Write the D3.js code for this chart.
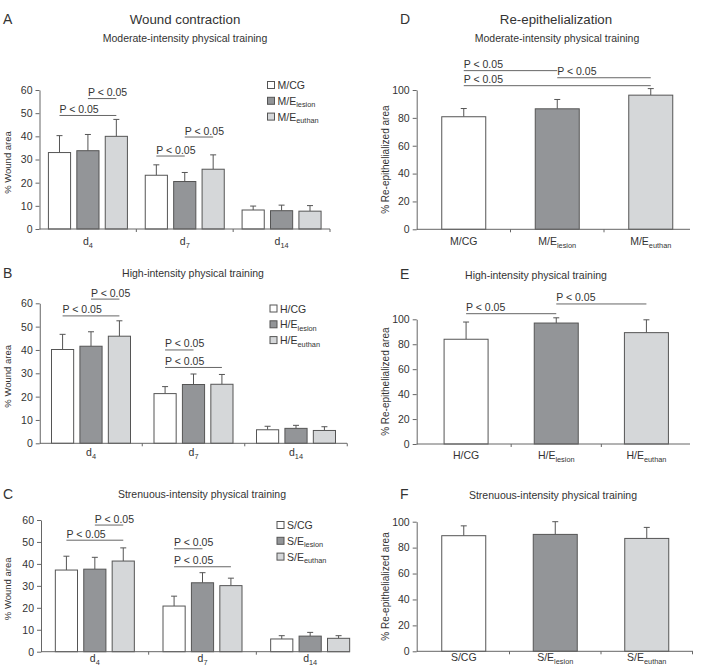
<!DOCTYPE html>
<html>
<head>
<meta charset="utf-8">
<script src="https://cdn.jsdelivr.net/npm/d3@7"></script>
<style>
  body { margin: 0; background: #fff; }
  text, tspan { font-family: "Liberation Sans", Arial, sans-serif; fill: #333; }
</style>
</head>
<body>
<svg id="chart" width="702" height="671"></svg>
<script>
// ---- data ----
const days = ['4', '7', '14']
const groups = ['CG', 'lesion', 'euthan']
const woundTicks = [0, 10, 20, 30, 40, 50, 60]
const repiTicks = [0, 20, 40, 60, 80, 100]

// wound area (%), rows = d4, d7, d14 ; cols = CG, E lesion, E euthan
const woundModerate = [[33, 33.8, 40], [23.2, 20.5, 25.8], [8.2, 7.9, 7.7]]
const woundModerateErr = [[40.3, 40.8, 47.3], [27.7, 24.4, 32], [9.9, 10.3, 10.1]]
const woundHigh = [[40.2, 41.6, 45.9], [21.3, 25.2, 25.3], [5.8, 6.4, 5.5]]
const woundHighErr = [[46.7, 47.8, 52.5], [24.3, 29.7, 29.5], [7.3, 7.7, 7.1]]
const woundStrenuous = [[37.2, 37.6, 41.3], [20.8, 31.4, 30.1], [5.8, 7.1, 6.1]]
const woundStrenuousErr = [[43.5, 43, 47.3], [25.3, 36, 33.5], [7.3, 8.8, 7.3]]

// re-epithelialized area (%), CG, E lesion, E euthan
const repiModerate = [80.8, 86.5, 96.3]
const repiModerateErr = [86.7, 93.2, 101]
const repiHigh = [84, 97, 89.3]
const repiHighErr = [97.8, 101.2, 99.6]
const repiStrenuous = [89.2, 90.2, 87.1]
const repiStrenuousErr = [96.8, 100, 95.6]

// significance brackets: category / bar a -> bar b at level y
const sigWoundModerate = [
  { g: 0, a: 0, b: 2, y: 49 }, { g: 0, a: 1, b: 2, y: 56.3 },
  { g: 1, a: 0, b: 1, y: 31.5 }, { g: 1, a: 1, b: 2, y: 39.7 }
]
const sigWoundHigh = [
  { g: 0, a: 0, b: 2, y: 54.6 }, { g: 0, a: 1, b: 2, y: 61.8 },
  { g: 1, a: 0, b: 1, y: 40 }, { g: 1, a: 0, b: 2, y: 32.5 }
]
const sigWoundStrenuous = [
  { g: 0, a: 0, b: 2, y: 50.8 }, { g: 0, a: 1, b: 2, y: 57.7 },
  { g: 1, a: 0, b: 1, y: 46.9 }, { g: 1, a: 0, b: 2, y: 38.7 }
]
const sigRepiModerate = [{ a: 0, b: 1, y: 113.9 }, { a: 1, b: 2, y: 108.8 }, { a: 0, b: 2, y: 103.1 }]
const sigRepiHigh = [{ a: 0, b: 1, y: 104.5 }, { a: 1, b: 2, y: 112.3 }]
const sigRepiStrenuous = []

const fills = ['#ffffff', '#939598', '#d5d7d9']
const stroke = '#555'
const axisColor = '#666'
const pText = 'P < 0.05'

const svg = d3.select('#chart')

function txt(x, y, s, size, anchor) {
  return svg.append('text').attr('x', x).attr('y', y)
    .attr('font-size', size).attr('text-anchor', anchor || 'start').text(s)
}

function subText(x, y, main, sub, size, anchor) {
  const t = svg.append('text').attr('x', x).attr('y', y)
    .attr('font-size', size).attr('text-anchor', anchor || 'start')
  t.append('tspan').attr('fill', '#333').text(main)
  t.append('tspan').attr('fill', '#333').attr('font-size', size * 0.7).attr('dy', 2.5).text(sub)
  return t
}

function yAxis(y, ticks, xPos) {
  const g = svg.append('g').attr('transform', `translate(${xPos},0)`)
    .call(d3.axisLeft(y).tickValues(ticks).tickSize(4).tickSizeOuter(0).tickPadding(3))
  g.select('.domain').attr('stroke', axisColor)
  g.selectAll('.tick line').attr('stroke', axisColor)
  g.selectAll('.tick text').attr('font-size', 10.5).attr('fill', '#333')
    .attr('font-family', '"Liberation Sans", Arial, sans-serif')
}

function xAxisLine(x, y0, x0, x1) {
  svg.append('line').attr('x1', x0).attr('x2', x1).attr('y1', y0).attr('y2', y0)
    .attr('stroke', axisColor)
  x.domain().forEach((d, i) => {
    const xx = x.range()[0] + x.step() * (i + 1)
    if (xx > x1 + 1) return
    svg.append('line').attr('x1', xx).attr('x2', xx).attr('y1', y0).attr('y2', y0 + 3)
      .attr('stroke', axisColor)
  })
}

function errBar(cx, yTop, yErr) {
  svg.append('line').attr('x1', cx).attr('x2', cx).attr('y1', yTop).attr('y2', yErr)
    .attr('stroke', stroke)
  svg.append('line').attr('x1', cx - 3).attr('x2', cx + 3).attr('y1', yErr).attr('y2', yErr)
    .attr('stroke', stroke)
}

function sigLine(xa, xb, yy) {
  svg.append('line').attr('x1', xa).attr('x2', xb).attr('y1', yy).attr('y2', yy)
    .attr('stroke', axisColor)
  txt(xa, yy - 2.5, pText, 10.5)
}

function woundPanel(p) {
  const y = d3.scaleLinear().domain([0, 60]).range([p.y0, p.y1])
  const x = d3.scaleBand().domain(days).range(p.band)
  const xi = d3.scaleBand().domain(groups).range([-39.5, 39.5]).paddingInner(0.22)
  const barX = (gi, si) => x(days[gi]) + x.bandwidth() / 2 + xi(groups[si])
  const barC = (gi, si) => barX(gi, si) + xi.bandwidth() / 2

  p.values.forEach((row, gi) => row.forEach((v, si) => {
    errBar(barC(gi, si), y(v), y(p.err[gi][si]))
    svg.append('rect')
      .attr('x', barX(gi, si)).attr('y', y(v))
      .attr('width', xi.bandwidth()).attr('height', y(0) - y(v))
      .attr('fill', fills[si]).attr('stroke', stroke)
  }))

  yAxis(y, woundTicks, p.band[0])
  xAxisLine(x, p.y0, p.band[0], p.axisEnd)
  days.forEach(d => subText(x(d) + x.bandwidth() / 2, p.labelY, 'd', d, 10.5, 'middle'))

  svg.append('text').attr('font-size', 9.5).attr('text-anchor', 'middle')
    .attr('transform', `translate(11,${(p.y0 + p.y1) / 2 + 3}) rotate(-90)`)
    .text('% Wound area')

  p.sig.forEach(s => sigLine(barC(s.g, s.a), barC(s.g, s.b), y(s.y)))

  // legend
  groups.forEach((k, i) => {
    const ly = p.legY + i * 15.8
    svg.append('rect').attr('x', p.legX).attr('y', ly - 3.5).attr('width', 7).attr('height', 7)
      .attr('fill', fills[i]).attr('stroke', stroke)
    if (i === 0) txt(p.legX + 10, ly + 4, p.prefix + '/CG', 10.5)
    else subText(p.legX + 10, ly + 4, p.prefix + '/E', k, 10.5)
  })

  txt(3, p.letterY, p.letter, 14)
  txt(p.subX, p.subY, p.subtitle, 10.5, 'middle')
}

function repiPanel(p) {
  const y = d3.scaleLinear().domain([0, 100]).range([p.y0, p.y1])
  const x = d3.scaleBand().domain(groups).range(p.band)
  const barW = 44
  const barC = i => x(groups[i]) + x.bandwidth() / 2

  p.values.forEach((v, i) => {
    errBar(barC(i), y(v), y(p.err[i]))
    svg.append('rect')
      .attr('x', barC(i) - barW / 2).attr('y', y(v))
      .attr('width', barW).attr('height', y(0) - y(v))
      .attr('fill', fills[i]).attr('stroke', stroke)
  })

  yAxis(y, repiTicks, 416.7)
  xAxisLine(x, p.y0, 416.7, p.axisEnd)
  groups.forEach((k, i) => {
    if (i === 0) txt(barC(i), p.labelY, p.prefix + '/CG', 10.5, 'middle')
    else subText(barC(i), p.labelY, p.prefix + '/E', k, 10.5, 'middle')
  })

  svg.append('text').attr('font-size', 10).attr('text-anchor', 'middle')
    .attr('transform', `translate(389,${(p.y0 + p.y1) / 2}) rotate(-90)`)
    .text('% Re-epithelialized area')

  p.sig.forEach(s => sigLine(barC(s.a), barC(s.b), y(s.y)))

  txt(400, p.letterY, p.letter, 14)
  txt(p.subX, p.subY, p.subtitle, 10.5, 'middle')
}

// headers
txt(185, 24, 'Wound contraction', 13.3, 'middle')
txt(556, 24, 'Re-epithelialization', 13.3, 'middle')

woundPanel({
  letter: 'A', letterY: 24, prefix: 'M', subtitle: 'Moderate-intensity physical training', subX: 185, subY: 42,
  values: woundModerate, err: woundModerateErr, sig: sigWoundModerate,
  y0: 229, y1: 90, band: [39.5, 330], axisEnd: 330, labelY: 245, legX: 267.5, legY: 85
})
woundPanel({
  letter: 'B', letterY: 278, prefix: 'H', subtitle: 'High-intensity physical training', subX: 193, subY: 277,
  values: woundHigh, err: woundHighErr, sig: sigWoundHigh,
  y0: 443.3, y1: 303.3, band: [39.75, 347.25], axisEnd: 347, labelY: 456, legX: 270, legY: 308.5
})
woundPanel({
  letter: 'C', letterY: 499, prefix: 'S', subtitle: 'Strenuous-intensity physical training', subX: 202, subY: 498,
  values: woundStrenuous, err: woundStrenuousErr, sig: sigWoundStrenuous,
  y0: 651.7, y1: 520, band: [41, 364], axisEnd: 350, labelY: 662, legX: 277, legY: 525
})

repiPanel({
  letter: 'D', letterY: 24, prefix: 'M', subtitle: 'Moderate-intensity physical training', subX: 557, subY: 42,
  values: repiModerate, err: repiModerateErr, sig: sigRepiModerate,
  y0: 229.3, y1: 90, band: [417, 697.5], axisEnd: 690, labelY: 245
})
repiPanel({
  letter: 'E', letterY: 279, prefix: 'H', subtitle: 'High-intensity physical training', subX: 536, subY: 279,
  values: repiHigh, err: repiHighErr, sig: sigRepiHigh,
  y0: 444, y1: 319.3, band: [421, 691.5], axisEnd: 690, labelY: 459
})
repiPanel({
  letter: 'F', letterY: 499, prefix: 'S', subtitle: 'Strenuous-intensity physical training', subX: 553, subY: 499,
  values: repiStrenuous, err: repiStrenuousErr, sig: sigRepiStrenuous,
  y0: 651.3, y1: 521.7, band: [418, 692.5], axisEnd: 693, labelY: 661
})
</script>
</body>
</html>
